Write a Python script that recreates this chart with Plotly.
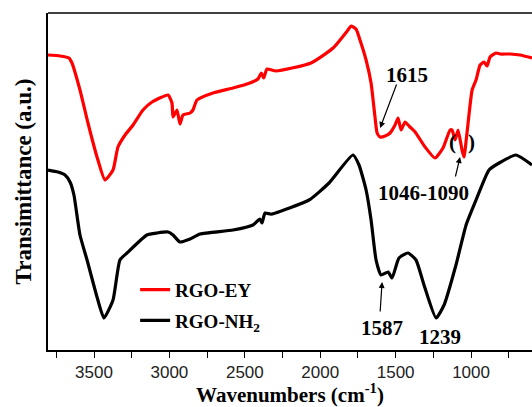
import plotly.graph_objects as go

# RGO-EY (red) spectrum: wavenumber (cm-1) and transmittance (a.u.)
ey_wn = [3805, 3725, 3666, 3646, 3593, 3540, 3480, 3427, 3374, 3341, 3294, 3241, 3175, 3115,
         3009, 2983, 2976, 2950, 2930, 2910, 2863, 2844, 2817, 2711, 2578, 2466, 2413, 2390,
         2375, 2353, 2293, 2061, 1915, 1816, 1796, 1763, 1730, 1696, 1663, 1637, 1623, 1603,
         1570, 1537, 1504, 1484, 1464, 1438, 1405, 1371, 1305, 1239, 1186, 1139, 1126, 1106,
         1086, 1060, 1047, 1027, 993, 967, 940, 914, 894, 874, 834, 808, 741, 675, 596]
ey_t = [295, 294, 292, 287, 260, 227, 193, 170, 180, 203, 215, 225, 240, 248,
        255, 247, 233, 240, 226, 235, 237, 240, 250, 257, 262, 267, 271, 277,
        272, 281, 279, 287, 302, 320, 324, 321, 307, 290, 267, 233, 217, 213,
        214, 217, 225, 232, 220, 228, 223, 218, 203, 192, 202, 220, 220, 210,
        220, 200, 193, 217, 260, 270, 285, 288, 284, 293, 297, 296, 296, 295, 292]

# RGO-NH2 (black) spectrum
nh_wn = [3805, 3739, 3692, 3659, 3633, 3593, 3546, 3480, 3434, 3374, 3328, 3281, 3149, 3082,
         3009, 2976, 2930, 2863, 2797, 2578, 2446, 2400, 2386, 2366, 2333, 2320, 2074, 1942,
         1783, 1743, 1696, 1663, 1630, 1597, 1550, 1524, 1478, 1418, 1365, 1312, 1232, 1179,
         1100, 1033, 967, 881, 814, 702, 596]
nh_t = [180, 178, 175, 168, 155, 115, 90, 53, 32, 50, 90, 97, 115, 117,
        118, 115, 108, 111, 116, 120, 125, 131, 127, 137, 136, 136, 150, 167,
        195, 185, 160, 130, 90, 75, 78, 72, 92, 97, 90, 65, 32, 45,
        85, 125, 150, 180, 187, 195, 185]

x_range = [3805, 596]
y_range = [0, 337]

serif = "Liberation Serif"

fig = go.Figure()
fig.add_trace(go.Scatter(x=ey_wn, y=ey_t, mode="lines", name="RGO-EY",
                         line=dict(color="#ff0000", width=3.2, shape="spline", smoothing=0.5),
                         legendgroup="a"))
fig.add_trace(go.Scatter(x=nh_wn, y=nh_t, mode="lines", name="RGO-NH<sub>2</sub>",
                         line=dict(color="#000000", width=3.2, shape="spline", smoothing=0.5),
                         legendgroup="b"))

ann_font = dict(family=serif, size=21, color="black", weight="bold")
arrow = dict(showarrow=True, arrowhead=2, arrowsize=1, arrowwidth=1.2, arrowcolor="black", text="")
annotations = [
    # labels
    dict(x=1425, y=275, text="1615", showarrow=False, font=ann_font),
    dict(x=1318, y=157, text="1046-1090", showarrow=False, font=ann_font),
    dict(x=1126, y=208, text="(", showarrow=False, font=ann_font),
    dict(x=1000, y=208, text=")", showarrow=False, font=ann_font),
    dict(x=1590, y=22, text="1587", showarrow=False, font=ann_font),
    dict(x=1206, y=13, text="1239", showarrow=False, font=ann_font),
    # arrows
    dict(x=1603, y=222, ax=17, ay=-45, **arrow),
    dict(x=1073, y=193, ax=-5, ay=21, **arrow),
    dict(x=1590, y=68, ax=-2, ay=31, **arrow),
]

fig.update_layout(
    width=532, height=407,
    margin=dict(l=48, r=0, t=13, b=57),
    paper_bgcolor="white", plot_bgcolor="white",
    showlegend=True,
    legend=dict(x=0.18, y=0.235, xanchor="left", yanchor="top",
                font=dict(family=serif, size=19, color="black", weight="bold"),
                bgcolor="rgba(0,0,0,0)", tracegroupgap=3),
    annotations=annotations,
    shapes=[dict(type="line", xref="paper", yref="paper", x0=0, x1=1, y0=1, y1=1,
                 line=dict(color="black", width=1.5))],
    xaxis=dict(range=x_range, showgrid=False, zeroline=False,
               showline=True, linecolor="black", linewidth=1.5,
               ticks="outside", ticklen=6, tickwidth=1.2, tickcolor="black",
               tick0=0, dtick=500,
               minor=dict(ticks="outside", ticklen=6, tickwidth=1.2, tickcolor="black", dtick=250, tick0=0),
               tickfont=dict(family="Liberation Sans", size=17, color="#222"),
               title=dict(text="Wavenumbers (cm<sup>-1</sup>)", standoff=6,
                          font=dict(family=serif, size=21, color="black", weight="bold"))),
    yaxis=dict(range=y_range, showgrid=False, zeroline=False, showticklabels=False,
               showline=True, linecolor="black", linewidth=1.5, ticks="",
               title=dict(text="Transimittance (a.u.)", standoff=8,
                          font=dict(family=serif, size=23, color="black", weight="bold"))),
)

fig.write_html("out.html")
